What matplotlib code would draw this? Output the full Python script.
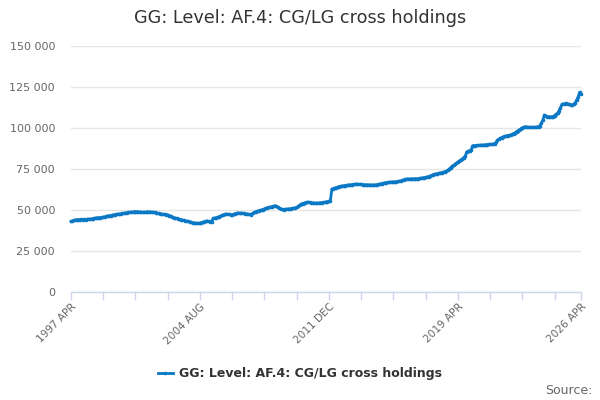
import numpy as np
import matplotlib
matplotlib.use("Agg")
import matplotlib.pyplot as plt
from matplotlib.ticker import FuncFormatter

title = "GG: Level: AF.4: CG/LG cross holdings"
series_name = "GG: Level: AF.4: CG/LG cross holdings"
tick_labels = ["1997 APR", "2004 AUG", "2011 DEC", "2019 APR", "2026 APR"]

# values in thousands, one list per calendar year (1997 from APR, 2026 to APR)
y1997 = [43.0, 43.4, 43.7, 43.9, 44.0, 44.2, 44.1, 44.3, 44.2]
y1998 = [44.3, 44.2, 44.4, 44.5, 44.4, 44.6, 44.8, 45.0, 45.1, 45.3, 45.3, 45.4]
y1999 = [45.5, 45.6, 45.8, 46.1, 46.4, 46.5, 46.6, 46.8, 47.0, 47.2, 47.3, 47.5]
y2000 = [47.6, 47.7, 47.9, 48.0, 48.2, 48.3, 48.5, 48.6, 48.7, 48.8, 48.9, 49.0]
y2001 = [49.0, 48.9, 48.8, 48.7, 48.6, 48.6, 48.7, 48.8, 48.9, 48.8, 48.7, 48.6]
y2002 = [48.5, 48.3, 48.1, 47.9, 47.7, 47.5, 47.4, 47.3, 47.2, 47.0, 46.6, 46.2]
y2003 = [45.8, 45.4, 45.1, 44.9, 44.6, 44.4, 44.1, 43.9, 43.7, 43.5, 43.2, 43.0]
y2004 = [42.8, 42.6, 42.3, 42.1, 42.0, 41.9, 41.9, 42.0, 42.3, 42.6, 42.9, 43.2]
y2005 = [43.3, 43.1, 42.9, 42.9, 44.9, 45.1, 45.3, 45.6, 45.9, 46.3, 46.7, 47.1]
y2006 = [47.4, 47.5, 47.4, 47.3, 47.2, 47.2, 47.4, 47.7, 48.0, 48.2, 48.1, 48.0]
y2007 = [48.0, 48.0, 47.8, 47.6, 47.4, 47.3, 47.2, 47.9, 48.6, 48.9, 49.2, 49.5]
y2008 = [49.8, 50.0, 50.3, 50.7, 51.1, 51.4, 51.6, 51.8, 52.0, 52.2, 52.6, 52.3]
y2009 = [51.6, 51.2, 50.8, 50.4, 50.3, 50.4, 50.5, 50.6, 50.7, 50.8, 51.0, 51.1]
y2010 = [51.3, 51.6, 52.2, 52.9, 53.6, 53.9, 54.2, 54.5, 54.8, 54.7, 54.6, 54.5]
y2011 = [54.4, 54.3, 54.2, 54.2, 54.3, 54.4, 54.5, 54.6, 54.7, 54.9, 55.1, 55.4]
y2012 = [55.7, 62.8, 63.1, 63.4, 63.7, 64.0, 64.3, 64.5, 64.6, 64.8, 64.9, 65.1]
y2013 = [65.2, 65.3, 65.4, 65.5, 65.6, 65.7, 65.8, 65.7, 65.7, 65.6, 65.5, 65.5]
y2014 = [65.4, 65.4, 65.3, 65.3, 65.2, 65.3, 65.3, 65.4, 65.5, 65.7, 65.9, 66.1]
y2015 = [66.3, 66.5, 66.7, 66.8, 66.9, 67.0, 67.1, 67.1, 67.2, 67.3, 67.4, 67.5]
y2016 = [67.7, 68.0, 68.4, 68.7, 68.9, 68.9, 68.9, 69.0, 69.0, 69.0, 69.1, 69.1]
y2017 = [69.2, 69.3, 69.4, 69.6, 69.8, 69.9, 70.1, 70.4, 70.7, 71.1, 71.4, 71.7]
y2018 = [72.0, 72.2, 72.4, 72.6, 72.8, 73.0, 73.3, 73.6, 74.2, 74.9, 75.8, 76.6]
y2019 = [77.2, 77.8, 78.5, 79.3, 80.0, 80.5, 81.2, 82.0, 82.8, 85.4, 85.8, 86.2]
y2020 = [86.6, 89.2, 89.3, 89.3, 89.4, 89.4, 89.5, 89.6, 89.6, 89.7, 89.8, 89.9]
y2021 = [90.0, 90.0, 90.1, 90.2, 90.4, 91.2, 92.5, 93.3, 93.8, 94.2, 94.7, 95.0]
y2022 = [95.2, 95.4, 95.6, 95.7, 96.1, 96.6, 97.1, 97.8, 98.4, 99.0, 99.6, 100.2]
y2023 = [100.5, 100.8, 100.7, 100.5, 100.4, 100.4, 100.4, 100.5, 100.5, 100.6, 100.8, 101.5]
y2024 = [103.0, 104.9, 107.9, 107.4, 107.0, 106.9, 106.8, 106.9, 107.0, 107.6, 108.3, 109.0]
y2025 = [110.5, 112.5, 114.4, 114.6, 114.8, 115.0, 114.7, 114.4, 114.2, 114.0, 114.6, 115.3]
y2026 = [117.1, 118.8, 121.8, 120.6]

years = [y1997, y1998, y1999, y2000, y2001, y2002, y2003, y2004, y2005, y2006,
         y2007, y2008, y2009, y2010, y2011, y2012, y2013, y2014, y2015, y2016,
         y2017, y2018, y2019, y2020, y2021, y2022, y2023, y2024, y2025, y2026]
values = np.array([v for yr in years for v in yr]) * 1000
months = np.arange(len(values))

fig = plt.figure(figsize=(6, 4), dpi=100)
ax = fig.add_axes([71/600, 1-292/400, (581-71)/600, (292-46)/400])

color = "#0a78c4"
line, = ax.plot(months, values, color=color, lw=2, marker="o", ms=2.6,
                markeredgewidth=0, label=series_name, clip_on=False)

ax.set_xlim(0, len(values)-1)
ax.set_ylim(0, 150000)
ax.set_yticks(np.arange(0, 150001, 25000))
ax.yaxis.set_major_formatter(FuncFormatter(lambda v, p: f"{int(v):,}".replace(",", " ")))
ax.grid(axis="y", color="#e6e6e6", lw=1)
ax.set_axisbelow(True)
for s in ["top", "right", "left"]:
    ax.spines[s].set_visible(False)
ax.spines["bottom"].set_color("#ccd6eb")
ax.spines["bottom"].set_linewidth(1)

step = 22
xt = list(range(0, len(values)-1, step)) + [len(values)-1]
ax.set_xticks(xt)
lab_pos = {0: tick_labels[0], 88: tick_labels[1], 176: tick_labels[2],
           264: tick_labels[3], len(values)-1: tick_labels[4]}
ax.set_xticklabels([lab_pos.get(t, "") for t in xt], rotation=45, ha="right",
                   rotation_mode="anchor", fontsize=7.6, color="#666666")
ax.tick_params(axis="x", length=6, color="#ccd6eb", width=1, pad=1)
ax.tick_params(axis="y", length=0, labelsize=8, labelcolor="#666666", pad=11.5)

fig.text(0.5, 1-18/400, title, ha="center", va="center", fontsize=12.7, color="#333333")

leg = fig.legend(handles=[line], loc="center", bbox_to_anchor=(0.5, 1-374/400),
                 frameon=False, prop={"weight": "bold", "size": 9},
                 handlelength=1.2, handletextpad=0.5, labelcolor="#333333")
fig.text(593/600, 1-390/400, "Source:", ha="right", va="center", fontsize=9, color="#666666")

fig.savefig("out.png", dpi=100)
